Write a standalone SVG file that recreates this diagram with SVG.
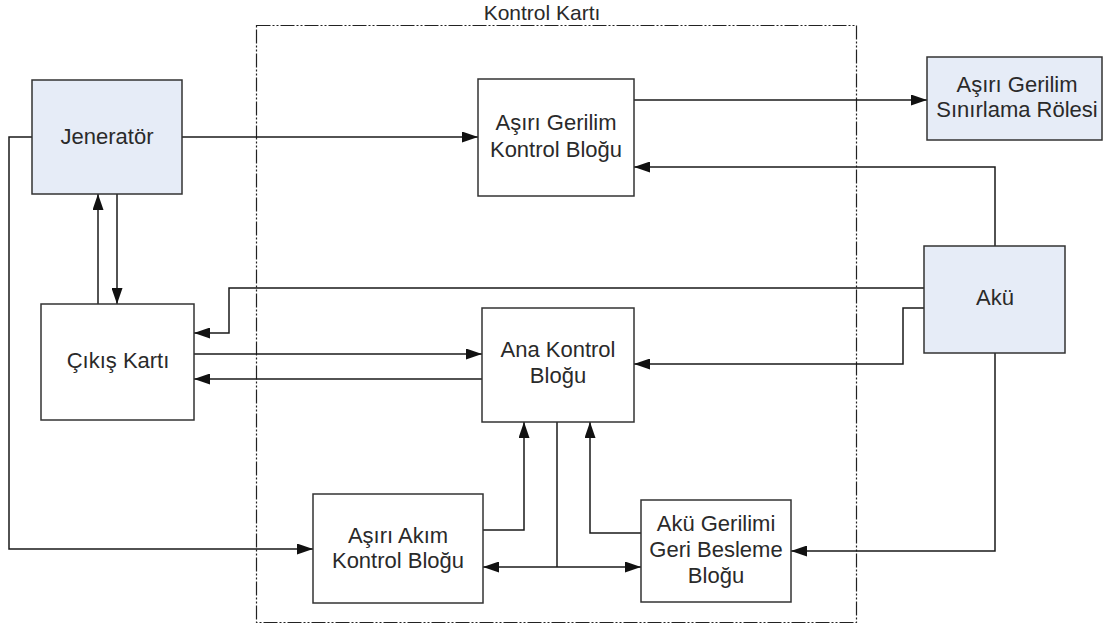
<svg xmlns="http://www.w3.org/2000/svg" width="1103" height="625" viewBox="0 0 1103 625">
<defs>
<marker id="ah" markerUnits="userSpaceOnUse" markerWidth="16" markerHeight="11" refX="16" refY="5.5" orient="auto">
<path d="M0,0 L16,5.5 L0,11 z" fill="#111"/>
</marker>
<marker id="ahs" markerUnits="userSpaceOnUse" markerWidth="16" markerHeight="11" refX="0" refY="5.5" orient="auto">
<path d="M16,0 L0,5.5 L16,11 z" fill="#111"/>
</marker>
<style>
.box{fill:#fff;stroke:#333;stroke-width:1.5}
.ext{fill:#E6ECF7;stroke:#333;stroke-width:1.5}
.t{font-family:"Liberation Sans",Arial,sans-serif;font-size:22px;fill:#2a2a2a;text-anchor:middle}
.c{fill:none;stroke:#1a1a1a;stroke-width:1.5}
.frame{fill:none;stroke:#222;stroke-width:1.2;stroke-dasharray:14 2 2 2 2 2}
</style>
</defs>
<rect class="frame" x="256.5" y="25.5" width="600" height="597"/>
<text class="t" x="542" y="20" style="font-size:21px">Kontrol Kartı</text>
<g id="connectors">
<path class="c" d="M182,137 H478" marker-end="url(#ah)"/>
<path class="c" d="M634,100 H927" marker-end="url(#ah)"/>
<path class="c" d="M995,246 V167 H634" marker-end="url(#ah)"/>
<path class="c" d="M924,288 H229 V333 H194" marker-end="url(#ah)"/>
<path class="c" d="M924,308 H903 V364 H634" marker-end="url(#ah)"/>
<path class="c" d="M995,353 V551 H791" marker-end="url(#ah)"/>
<path class="c" d="M194,354 H482" marker-end="url(#ah)"/>
<path class="c" d="M482,379 H194" marker-end="url(#ah)"/>
<path class="c" d="M98,304 V194" marker-end="url(#ah)"/>
<path class="c" d="M117,194 V304" marker-end="url(#ah)"/>
<path class="c" d="M32,137 H9 V549 H313" marker-end="url(#ah)"/>
<path class="c" d="M483,530 H524 V422" marker-end="url(#ah)"/>
<path class="c" d="M641,533 H590 V422" marker-end="url(#ah)"/>
<path class="c" d="M557,422 V567"/>
<path class="c" d="M483,567 H641" marker-start="url(#ahs)" marker-end="url(#ah)"/>
</g>
<g id="jenerator">
<rect class="ext" x="32" y="80" width="150" height="114"/>
<text class="t" x="107" y="144">Jeneratör</text>
</g>
<g id="cikis-karti">
<rect class="box" x="41" y="304" width="153" height="116"/>
<text class="t" x="118" y="368">Çıkış Kartı</text>
</g>
<g id="asiri-gerilim-kontrol">
<rect class="box" x="478" y="79" width="156" height="117"/>
<text class="t" x="556" y="130">Aşırı Gerilim</text>
<text class="t" x="556" y="157">Kontrol Bloğu</text>
</g>
<g id="asiri-gerilim-role">
<rect class="ext" x="927" y="57" width="175" height="83"/>
<text class="t" x="1017" y="92">Aşırı Gerilim</text>
<text class="t" x="1017" y="117">Sınırlama Rölesi</text>
</g>
<g id="aku">
<rect class="ext" x="924" y="246" width="141" height="107"/>
<text class="t" x="995" y="305">Akü</text>
</g>
<g id="ana-kontrol">
<rect class="box" x="482" y="308" width="152" height="114"/>
<text class="t" x="558" y="357">Ana Kontrol</text>
<text class="t" x="558" y="383">Bloğu</text>
</g>
<g id="asiri-akim">
<rect class="box" x="313" y="494" width="170" height="109"/>
<text class="t" x="398" y="543">Aşırı Akım</text>
<text class="t" x="398" y="568">Kontrol Bloğu</text>
</g>
<g id="aku-gerilimi">
<rect class="box" x="641" y="500" width="150" height="102"/>
<text class="t" x="716" y="531">Akü Gerilimi</text>
<text class="t" x="716" y="557">Geri Besleme</text>
<text class="t" x="716" y="583">Bloğu</text>
</g>
</svg>
